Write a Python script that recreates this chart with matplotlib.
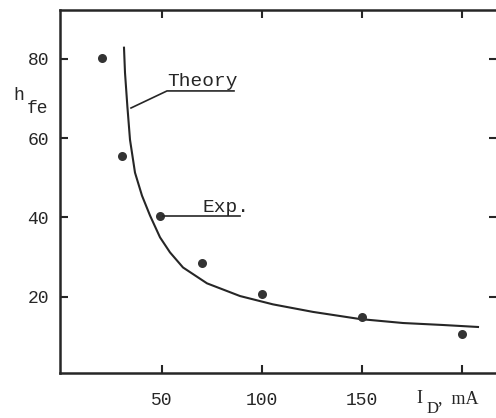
import matplotlib.pyplot as plt

# Experimental points (I_D in mA, h_fe)
exp_id = [20, 30, 49, 70, 100, 150, 200]
exp_hfe = [80.3, 55.4, 40.5, 28.6, 20.8, 14.9, 10.6]

# Theory curve
th_id = [31, 31.5, 32.7, 34, 36.5, 40, 44, 49, 54, 60.5, 72.5, 89,
         105.5, 125.5, 149, 170.5, 190.5, 208]
th_hfe = [82.8, 76.5, 67.9, 59.6, 51.3, 45.5, 40.5, 35, 31.2, 27.4, 23.4, 20.2,
          18.1, 16.2, 14.4, 13.4, 12.9, 12.4]

xticks = [50, 100, 150, 200]
xlabels = ["50", "100", "150", ""]
yticks = [20, 40, 60, 80]

ink = "#262626"
mono = "Liberation Mono"
serif = "Liberation Serif"

fig = plt.figure(figsize=(4.96, 4.18), dpi=100)
ax = fig.add_axes([60 / 496, 45 / 418, 437 / 496, 363 / 418])

ax.plot(th_id, th_hfe, color=ink, lw=1.5, solid_joinstyle="round")
ax.plot(exp_id, exp_hfe, "o", color="#333333", ms=6.5, mec="none")

ax.set_xlim(-1, 217.5)
ax.set_ylim(0.8, 92.3)

ax.set_xticks(xticks, xlabels)
ax.set_yticks(yticks)
ax.tick_params(direction="in", length=6, width=1.5, color=ink,
               top=True, right=True, labelsize=13, labelcolor=ink)
ax.tick_params(axis="x", pad=14)
ax.tick_params(axis="y", pad=8)
for lab in ax.get_xticklabels() + ax.get_yticklabels():
    lab.set_fontfamily(mono)
for sp in ax.spines.values():
    sp.set_linewidth(1.8)
    sp.set_color(ink)

# annotations
ax.plot([34.5, 52.5, 86], [67.6, 71.9, 71.9], color=ink, lw=1.2)
ax.text(52.5, 73.2, "Theory", family=mono, fontsize=14, color=ink)
ax.plot([50.5, 89], [40.4, 40.4], color=ink, lw=1.2)
ax.text(70.5, 41.4, "Exp.", family=mono, fontsize=14, color=ink)

# axis labels
fig.text(13 / 496, 1 - 100 / 418, "h", family=mono, fontsize=13, color=ink)
fig.text(27 / 496, 1 - 113 / 418, "fe", family=mono, fontsize=13, color=ink)
fig.text(416 / 496, 1 - 403 / 418, "I", family=serif, fontsize=13, color=ink)
fig.text(427 / 496, 1 - 413 / 418, "D", family=serif, fontsize=12, color=ink)
fig.text(438 / 496, 1 - 403 / 418, ",  mA", family=serif, fontsize=13, color=ink)

fig.savefig("out.png", dpi=100)
